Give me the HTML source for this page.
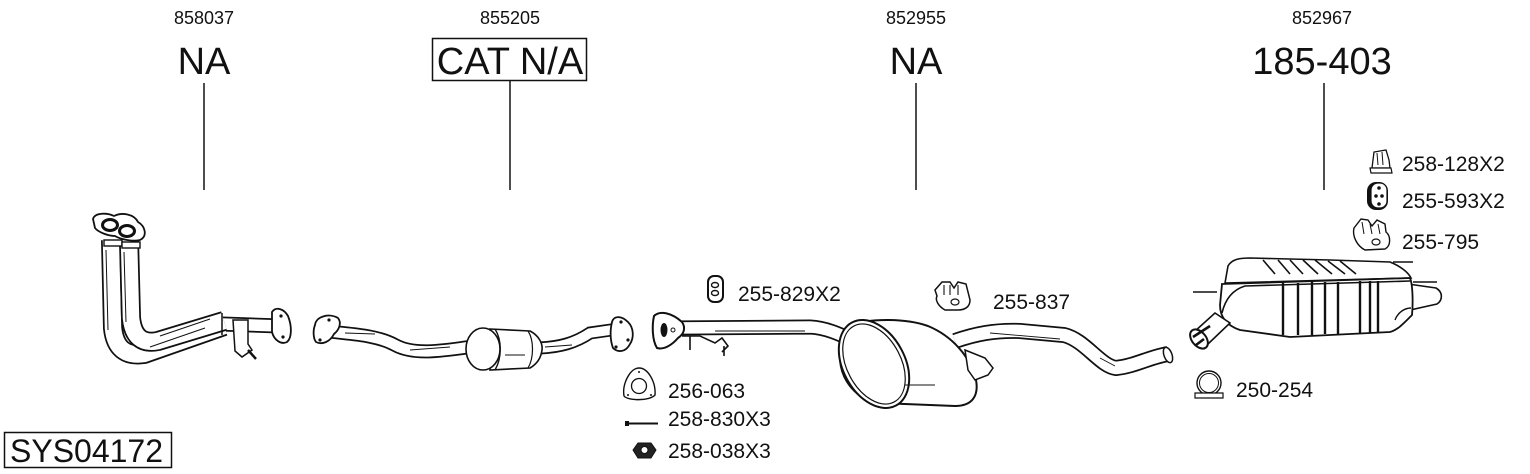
<!DOCTYPE html>
<html><head><meta charset="utf-8">
<style>
html,body{margin:0;padding:0;background:#fff;}
body{width:1530px;height:474px;overflow:hidden;}
svg{display:block;}
text{font-family:"Liberation Sans",Arial,sans-serif;fill:#111;}
</style></head>
<body>
<svg width="1530" height="474" viewBox="0 0 1530 474" xmlns="http://www.w3.org/2000/svg">
<!-- header labels -->
<g text-anchor="middle">
<text x="204" y="24" font-size="18">858037</text>
<text x="204" y="74" font-size="38">NA</text>
<text x="510" y="24" font-size="18">855205</text>
<text x="510" y="74" font-size="38">CAT N/A</text>
<text x="916" y="24" font-size="18">852955</text>
<text x="916" y="74" font-size="38">NA</text>
<text x="1322" y="24" font-size="18">852967</text>
<text x="1322" y="74" font-size="38">185-403</text>
</g>
<rect x="432.5" y="38.5" width="154" height="42" fill="none" stroke="#111" stroke-width="1.5"/>
<g stroke="#222" stroke-width="1.6">
<line x1="204" y1="83" x2="204" y2="190"/>
<line x1="510" y1="81" x2="510" y2="190"/>
<line x1="916" y1="83" x2="916" y2="190"/>
<line x1="1324" y1="83" x2="1324" y2="190"/>
</g>
<rect x="4.5" y="432.5" width="167" height="35" fill="none" stroke="#111" stroke-width="1.5"/>
<text x="10" y="462" font-size="32">SYS04172</text>

<!-- part labels -->
<g font-size="21">
<text x="738" y="301">255-829X2</text>
<text x="993" y="309">255-837</text>
<text x="668" y="398">256-063</text>
<text x="668" y="426">258-830X3</text>
<text x="668" y="458">258-038X3</text>
<text x="1402" y="171">258-128X2</text>
<text x="1402" y="208">255-593X2</text>
<text x="1402" y="249">255-795</text>
<text x="1236" y="397">250-254</text>
</g>

<!-- ============ Downpipe 858037 ============ -->
<g fill="none" stroke-linecap="butt" stroke-linejoin="round">
<path d="M222,324 L280,326" stroke="#111" stroke-width="15"/>
<path d="M222,324 L280,326" stroke="#fff" stroke-width="11.5"/>
<path d="M111,240 L113,328 Q116,358 144,354 L224,326" stroke="#111" stroke-width="20"/>
<path d="M111,240 L113,328 Q116,358 144,354 L224,326" stroke="#fff" stroke-width="16.5"/>
<path d="M129,240 L131,318 Q134,346 158,341 L224,321" stroke="#111" stroke-width="20"/>
<path d="M129,240 L131,318 Q134,346 158,341 L224,321" stroke="#fff" stroke-width="16.5"/>
<path d="M106,250 L108,330 M124,252 L126,322 M150,347 L205,328 M160,336 L210,319" stroke="#111" stroke-width="1"/>
</g>
<line x1="222" y1="313" x2="222" y2="335" stroke="#111" stroke-width="1.5"/>
<!-- top flange -->
<path d="M93,219 C95,212 108,213 114,216 C122,212 134,214 138,222 C145,226 148,236 140,240 C132,242 120,239 115,236 C108,236 98,232 95,228 Z" fill="#fff" stroke="#111" stroke-width="1.8"/>
<ellipse cx="110" cy="225" rx="7.5" ry="5.5" fill="#fff" stroke="#111" stroke-width="3"/>
<ellipse cx="127" cy="231" rx="7.5" ry="5.5" fill="#fff" stroke="#111" stroke-width="3"/>
<rect x="104" y="240" width="18" height="6" fill="#fff" stroke="#111" stroke-width="1.4"/>
<rect x="122" y="242" width="18" height="6" fill="#fff" stroke="#111" stroke-width="1.4"/>
<!-- right flange -->
<path d="M272,312 C276,306 284,309 288,316 C292,326 292,338 287,342 C281,345 274,340 272,332 Z" fill="#fff" stroke="#111" stroke-width="1.8"/>
<circle cx="281" cy="316" r="1.6" fill="#111"/><circle cx="283" cy="337" r="1.6" fill="#111"/>
<!-- bracket -->
<path d="M233,320 L248,320 L248,344 L252,350 L242,357 L235,351 Z" fill="#fff" stroke="#111" stroke-width="1.5"/>
<path d="M248,350 L256,359" stroke="#111" stroke-width="2.5"/>

<!-- ============ Catalyst 855205 ============ -->
<g fill="none">
<path d="M326,331 C345,334 375,334 395,345 C415,356 445,350 470,347" stroke="#111" stroke-width="14"/>
<path d="M326,331 C345,334 375,334 395,345 C415,356 445,350 470,347" stroke="#fff" stroke-width="10.5"/>
<path d="M540,348 C560,347 575,343 590,333 L618,329" stroke="#111" stroke-width="13"/>
<path d="M540,348 C560,347 575,343 590,333 L618,329" stroke="#fff" stroke-width="9.5"/>
<path d="M345,333 L375,334 M410,350 L450,347 M545,347 L572,345" stroke="#111" stroke-width="0.9"/>
</g>
<path d="M490,329 L530,331 C538,335 543,343 542,350 C541,358 537,364 530,368 L490,370 Z" fill="#fff" stroke="#111" stroke-width="1.6"/>
<ellipse cx="483" cy="349" rx="17" ry="21" fill="#fff" stroke="#111" stroke-width="1.6"/>
<path d="M495,329 C502,340 502,358 495,370" fill="none" stroke="#111" stroke-width="1.4"/>
<path d="M528,331 C534,340 534,358 528,368" fill="none" stroke="#111" stroke-width="1.2"/>
<path d="M505,355 L525,355" stroke="#111" stroke-width="0.9"/>
<!-- flanges -->
<path d="M315,325 C316,316 330,313 338,318 C342,323 339,330 334,334 C330,342 322,345 316,342 C313,338 313,330 315,325 Z" fill="#fff" stroke="#111" stroke-width="1.8"/>
<circle cx="329" cy="320" r="1.6" fill="#111"/><circle cx="320" cy="340" r="1.6" fill="#111"/>
<path d="M612,322 C614,315 622,316 628,322 C634,328 634,338 630,344 C626,352 618,353 613,348 C610,340 610,330 612,322 Z" fill="#fff" stroke="#111" stroke-width="1.8"/>
<circle cx="621" cy="322" r="1.6" fill="#111"/><circle cx="628" cy="340" r="1.6" fill="#111"/><circle cx="616" cy="347" r="1.6" fill="#111"/>

<!-- ============ Middle silencer 852955 ============ -->
<g fill="none">
<path d="M670,328 L810,327 C832,328 850,340 866,346" stroke="#111" stroke-width="15"/>
<path d="M670,328 L810,327 C832,328 850,340 866,346" stroke="#fff" stroke-width="11.5"/>
<path d="M955,341 C975,334 995,330 1020,331 L1064,335 C1085,340 1100,366 1116,368 C1135,366 1150,357 1168,354" stroke="#111" stroke-width="16"/>
<path d="M955,341 C975,334 995,330 1020,331 L1064,335 C1085,340 1100,366 1116,368 C1135,366 1150,357 1168,354" stroke="#fff" stroke-width="12.5"/>
<path d="M715,331 L805,331 M990,333 L1060,339 M1100,358 L1115,366" stroke="#111" stroke-width="0.9"/>
</g>
<ellipse cx="1168" cy="355" rx="4" ry="8" fill="#fff" stroke="#111" stroke-width="1.5" transform="rotate(-20 1168 355)"/>
<!-- hangers near flange -->
<path d="M682,336 L700,336 L715,343 L722,338 L728,346 L722,352 M690,336 L690,350 M724,346 L724,356" fill="none" stroke="#111" stroke-width="1.6"/>
<!-- silencer body -->
<path d="M848,326 C868,318 905,318 928,326 C952,336 970,356 976,380 C979,396 972,406 955,406 L880,403 C862,402 842,385 840,360 Z" fill="#fff" stroke="#111" stroke-width="2"/>
<ellipse cx="874" cy="364" rx="31" ry="47" fill="#fff" stroke="#111" stroke-width="2" transform="rotate(-28 874 364)"/>
<ellipse cx="874" cy="364" rx="27" ry="43" fill="none" stroke="#111" stroke-width="1.2" transform="rotate(-28 874 364)"/>
<path d="M905,385 L935,385" stroke="#111" stroke-width="0.9"/>
<path d="M965,350 L985,358 L993,368 L988,375 L975,380 L968,370 Z" fill="#fff" stroke="#111" stroke-width="1.5"/>
<!-- flange -->
<path d="M654,316 C660,310 672,313 682,322 C686,328 684,334 678,338 C672,345 664,350 657,348 C652,340 652,325 654,316 Z" fill="#fff" stroke="#111" stroke-width="2"/>
<ellipse cx="664" cy="330" rx="3.5" ry="7" fill="#111"/>
<circle cx="673" cy="330" r="2" fill="#fff" stroke="#111"/>

<!-- ============ Rear silencer 852967 ============ -->
<path d="M1193,292 L1217,292 M1393,262 L1413,262 M1413,282 L1437,282" stroke="#111" stroke-width="1.5"/>
<path d="M1408,284 L1436,288 C1443,292 1443,300 1437,304 L1410,310 Z" fill="#fff" stroke="#111" stroke-width="1.6"/>
<path d="M1228,266 C1232,259 1240,258 1250,258 L1330,260 L1390,262 C1400,266 1408,272 1411,278 L1225,283 Z" fill="#fff" stroke="#111" stroke-width="1.6"/>
<path d="M1222,284 L1410,278 C1413,285 1413,305 1412,315 C1405,322 1398,330 1390,332 L1290,337 L1240,330 C1228,326 1220,318 1220,305 Z" fill="#fff" stroke="#111" stroke-width="1.8"/>
<path d="M1222,313 C1225,300 1232,290 1245,286 L1410,281" fill="none" stroke="#111" stroke-width="1.6"/>
<g stroke="#111" stroke-width="2.4">
<line x1="1283" y1="283" x2="1283" y2="335"/>
<line x1="1298" y1="283" x2="1298" y2="335"/>
<line x1="1312" y1="282" x2="1312" y2="335"/>
<line x1="1325" y1="282" x2="1325" y2="334"/>
<line x1="1338" y1="282" x2="1338" y2="334"/>
<line x1="1360" y1="281" x2="1360" y2="333"/>
<line x1="1370" y1="281" x2="1370" y2="333"/>
<line x1="1378" y1="281" x2="1378" y2="333"/>
</g>
<g stroke="#111" stroke-width="1.6">
<line x1="1263" y1="260" x2="1275" y2="274"/>
<line x1="1278" y1="260" x2="1290" y2="274"/>
<line x1="1290" y1="260" x2="1303" y2="274"/>
<line x1="1303" y1="260" x2="1318" y2="274"/>
<line x1="1315" y1="260" x2="1332" y2="274"/>
<line x1="1328" y1="261" x2="1345" y2="274"/>
<line x1="1340" y1="261" x2="1356" y2="274"/>
</g>
<path d="M1395,320 C1398,312 1405,308 1411,308" fill="none" stroke="#111" stroke-width="1.4"/>
<!-- inlet -->
<path d="M1215,313 L1230,323 L1208,344 L1194,332 Z" fill="#fff" stroke="#111" stroke-width="1.6"/>
<ellipse cx="1199" cy="339" rx="7" ry="11" fill="#fff" stroke="#111" stroke-width="2" transform="rotate(-40 1199 339)"/>
<path d="M1193,337 L1210,326 M1196,345 L1204,339" stroke="#111" stroke-width="2.6"/>

<!-- ============ small icons ============ -->
<!-- 255-829X2 -->
<rect x="708" y="276" width="15" height="26" rx="6" fill="#fff" stroke="#111" stroke-width="2"/>
<ellipse cx="715" cy="285" rx="3.5" ry="2.5" fill="none" stroke="#111" stroke-width="1.4"/>
<ellipse cx="715" cy="293" rx="3.5" ry="2.5" fill="none" stroke="#111" stroke-width="1.4"/>
<!-- 255-837 -->
<path d="M935,290 L942,282 L950,282 L954,288 L958,282 L966,284 L968,292 L970,300 C970,306 966,310 958,310 L945,310 C938,306 935,300 937,296 Z" fill="#fff" stroke="#111" stroke-width="1.5"/>
<ellipse cx="955" cy="302" rx="4" ry="3" fill="none" stroke="#111" stroke-width="1.2"/>
<path d="M944,285 L944,295 M950,285 L950,295 M958,285 L958,295" stroke="#111" stroke-width="1.1"/>
<!-- 256-063 gasket -->
<path d="M639,368 C648,368 656,382 655,395 C650,401 628,401 624,396 C622,384 630,368 639,368 Z" fill="#fff" stroke="#111" stroke-width="1.4"/>
<circle cx="639" cy="386" r="7.5" fill="none" stroke="#111" stroke-width="1.3"/>
<circle cx="639" cy="372" r="1" fill="#111"/><circle cx="628" cy="395" r="1" fill="#111"/><circle cx="651" cy="395" r="1" fill="#111"/>
<!-- bolt -->
<line x1="627" y1="423.5" x2="658" y2="423.5" stroke="#111" stroke-width="2"/>
<rect x="625" y="421" width="4" height="5" fill="#111"/>
<!-- nut -->
<path d="M638,443 L651,443 L656,450 L651,458 L638,458 L633,450 Z" fill="#222" stroke="#111" stroke-width="1"/>
<circle cx="644.5" cy="450" r="3.5" fill="#fff" stroke="#111"/>
<!-- 258-128X2 -->
<path d="M1372,168 L1374,152 L1386,150 L1389,160 L1390,168 Z" fill="#fff" stroke="#111" stroke-width="1.3"/>
<path d="M1370,168 L1391,168 L1392,173 L1371,173 Z" fill="#fff" stroke="#111" stroke-width="1.2"/>
<path d="M1377,153 L1378,165 M1382,152 L1383,165" stroke="#111" stroke-width="1"/>
<!-- 255-593X2 -->
<rect x="1367" y="182" width="21" height="28" rx="9" fill="#111"/>
<rect x="1371" y="183" width="16" height="25" rx="7" fill="#fff" stroke="#111" stroke-width="1.2"/>
<circle cx="1379" cy="188" r="1.8" fill="#111"/><circle cx="1376" cy="196" r="1.8" fill="#111"/><circle cx="1382" cy="196" r="1.8" fill="#111"/><circle cx="1379" cy="204" r="1.8" fill="#111"/>
<!-- 255-795 -->
<path d="M1354,228 L1361,219 L1368,220 L1372,226 L1377,220 L1385,224 L1386,232 C1391,236 1391,246 1385,249 L1365,250 C1357,246 1352,236 1354,228 Z" fill="#fff" stroke="#111" stroke-width="1.4"/>
<ellipse cx="1376" cy="242" rx="4" ry="3" fill="none" stroke="#111" stroke-width="1.2"/>
<path d="M1362,222 L1364,234 M1370,224 L1372,234 M1378,224 L1380,234" stroke="#111" stroke-width="1"/>
<!-- 250-254 clamp -->
<circle cx="1209" cy="383" r="12" fill="#fff" stroke="#111" stroke-width="1.4"/>
<circle cx="1209" cy="383" r="9.5" fill="none" stroke="#111" stroke-width="1"/>
<path d="M1195,393 L1223,393 L1223,398 L1195,398 Z" fill="#fff" stroke="#111" stroke-width="1.2"/>
</svg>
</body></html>
